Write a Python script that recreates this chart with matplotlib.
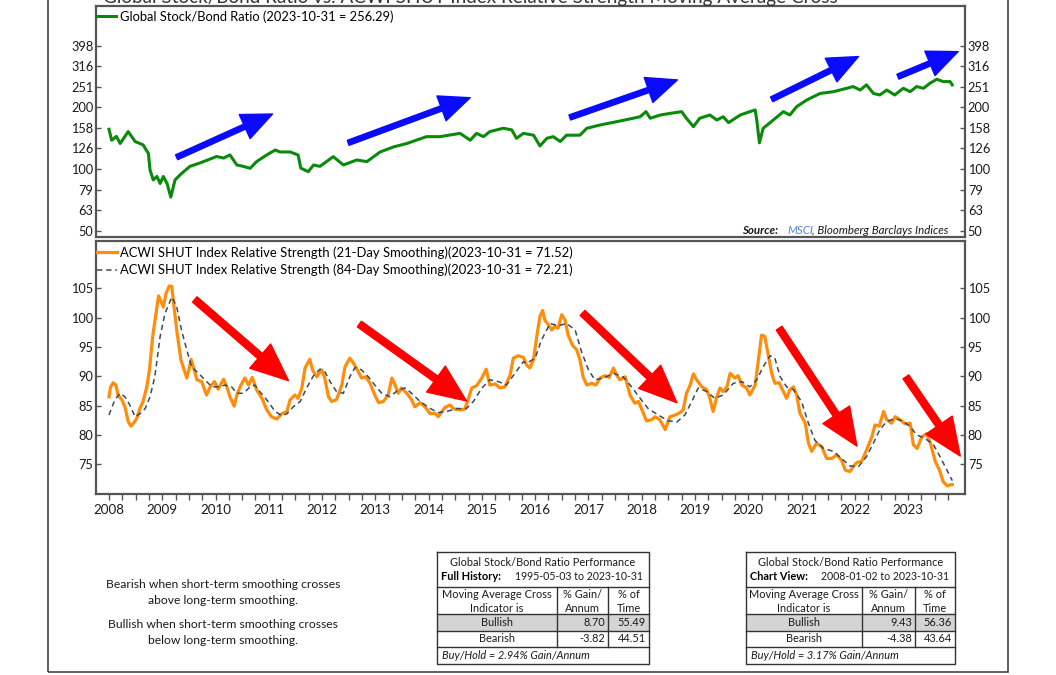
import matplotlib
matplotlib.use('Agg')
import matplotlib.pyplot as plt
import numpy as np
from matplotlib.patches import Rectangle
from matplotlib.ticker import FixedLocator, NullFormatter

plt.rcParams['font.family'] = ['Lato', 'DejaVu Sans']

W, H = 1056, 675

TITLE = 'Global Stock/Bond Ratio vs. ACWI SHUT Index Relative Strength Moving Average Cross'

# Global stock/bond ratio (decimal year, value)
RATIO_X = [2008.00, 2008.05, 2008.14, 2008.21, 2008.36, 2008.49, 2008.64, 2008.74, 2008.77, 2008.83,
           2008.90, 2008.96, 2009.02, 2009.09, 2009.16, 2009.24, 2009.36, 2009.52, 2009.71, 2010.02,
           2010.15, 2010.27, 2010.40, 2010.52, 2010.65, 2010.77, 2010.96, 2011.12, 2011.21, 2011.40,
           2011.55, 2011.60, 2011.74, 2011.84, 2011.96, 2012.21, 2012.40, 2012.65, 2012.84, 2013.09,
           2013.34, 2013.59, 2013.78, 2013.96, 2014.21, 2014.40, 2014.59, 2014.78, 2014.90, 2015.03,
           2015.15, 2015.40, 2015.56, 2015.65, 2015.78, 2015.97, 2016.09, 2016.22, 2016.34, 2016.47,
           2016.59, 2016.84, 2016.97, 2017.22, 2017.53, 2017.84, 2017.97, 2018.08, 2018.16, 2018.35,
           2018.54, 2018.75, 2018.84, 2018.97, 2019.09, 2019.28, 2019.41, 2019.53, 2019.63, 2019.85,
           2020.03, 2020.13, 2020.16, 2020.21, 2020.28, 2020.47, 2020.66, 2020.78, 2020.91, 2021.10,
           2021.35, 2021.60, 2021.85, 2021.97, 2022.10, 2022.22, 2022.35, 2022.47, 2022.60, 2022.75,
           2022.91, 2023.04, 2023.16, 2023.29, 2023.41, 2023.54, 2023.66, 2023.79, 2023.83]
RATIO_Y = [156, 138, 144, 133, 152, 136, 131, 119, 99, 88.5,
           92, 85, 92, 85, 73, 88.5, 95, 103, 107, 115,
           113, 117, 104.6, 103, 100.8, 108.6, 117, 123.6, 121, 121,
           117, 101, 97, 104.6, 103, 114.8, 104.6, 110.6, 108.6, 121,
           128, 133, 138.4, 143.6, 143.6, 146.3, 149, 138, 149, 143.6,
           152, 157.7, 155, 141, 149, 146, 129.4, 141, 143.6, 136,
           146, 146, 157.7, 163.7, 169.8, 176.5, 179.5, 190, 176.5, 183,
           186.5, 190, 176.5, 160.6, 176.5, 183, 173, 179.5, 168, 183,
           190, 193.6, 173, 134, 157.7, 173, 190, 183, 201, 216.6,
           233, 237.6, 246.8, 251.6, 242, 256.5, 233, 229, 242, 229,
           246.8, 237.6, 251.6, 246.8, 261, 273, 266, 266, 256.29]

# ACWI SHUT relative strength, 21-day smoothing
SHORT_X = [2008.00, 2008.03, 2008.08, 2008.13, 2008.17, 2008.24, 2008.30, 2008.36, 2008.41, 2008.46,
           2008.52, 2008.58, 2008.64, 2008.71, 2008.76, 2008.82, 2008.88, 2008.93, 2008.97, 2009.02,
           2009.07, 2009.13, 2009.18, 2009.22, 2009.28, 2009.35, 2009.41, 2009.46, 2009.50, 2009.54,
           2009.60, 2009.65, 2009.74, 2009.83, 2009.90, 2009.98, 2010.05, 2010.15, 2010.22, 2010.27,
           2010.35, 2010.40, 2010.46, 2010.55, 2010.62, 2010.69, 2010.77, 2010.87, 2010.96, 2011.05,
           2011.15, 2011.24, 2011.34, 2011.40, 2011.49, 2011.55, 2011.62, 2011.68, 2011.77, 2011.82,
           2011.90, 2011.99, 2012.05, 2012.12, 2012.18, 2012.27, 2012.37, 2012.43, 2012.52, 2012.59,
           2012.68, 2012.74, 2012.82, 2012.90, 2012.99, 2013.06, 2013.15, 2013.24, 2013.31, 2013.37,
           2013.43, 2013.49, 2013.59, 2013.68, 2013.74, 2013.84, 2013.93, 2014.03, 2014.12, 2014.18,
           2014.25, 2014.31, 2014.40, 2014.48, 2014.59, 2014.68, 2014.74, 2014.81, 2014.90, 2015.00,
           2015.08, 2015.15, 2015.25, 2015.34, 2015.43, 2015.53, 2015.59, 2015.68, 2015.78, 2015.84,
           2015.90, 2015.97, 2016.03, 2016.09, 2016.14, 2016.18, 2016.25, 2016.31, 2016.37, 2016.43,
           2016.50, 2016.56, 2016.62, 2016.70, 2016.78, 2016.84, 2016.90, 2016.97, 2017.06, 2017.14,
           2017.22, 2017.31, 2017.39, 2017.47, 2017.53, 2017.59, 2017.69, 2017.78, 2017.87, 2017.94,
           2018.03, 2018.09, 2018.19, 2018.25, 2018.34, 2018.44, 2018.53, 2018.63, 2018.72, 2018.78,
           2018.84, 2018.91, 2018.97, 2019.03, 2019.13, 2019.22, 2019.28, 2019.34, 2019.41, 2019.47,
           2019.53, 2019.60, 2019.66, 2019.75, 2019.81, 2019.88, 2019.97, 2020.03, 2020.13, 2020.19,
           2020.25, 2020.31, 2020.38, 2020.44, 2020.50, 2020.58, 2020.66, 2020.72, 2020.78, 2020.85,
           2020.91, 2020.97, 2021.07, 2021.13, 2021.19, 2021.28, 2021.38, 2021.47, 2021.57, 2021.66,
           2021.75, 2021.82, 2021.91, 2021.97, 2022.04, 2022.13, 2022.22, 2022.32, 2022.38, 2022.46,
           2022.54, 2022.60, 2022.69, 2022.76, 2022.85, 2022.94, 2023.04, 2023.10, 2023.17, 2023.26,
           2023.35, 2023.42, 2023.51, 2023.59, 2023.66, 2023.74, 2023.79, 2023.83]
SHORT_Y = [86.5, 88.2, 88.9, 88.5, 86.8, 86.0, 84.8, 82.3, 81.5, 82.0,
           82.8, 84.5, 85.7, 88.2, 91.1, 96.8, 100.5, 103.7, 102.9, 101.8,
           104.1, 105.4, 105.3, 101.9, 97.3, 92.8, 91.1, 89.7, 91.1, 92.9,
           91.1, 89.4, 89.1, 86.8, 88.2, 89.1, 87.8, 89.5, 88.0, 86.5,
           84.9, 86.8, 88.2, 89.7, 88.5, 89.8, 87.7, 86.25, 84.3, 83.1,
           82.7, 83.6, 84.0, 86.0, 86.8, 86.25, 88.0, 91.4, 92.9, 91.1,
           89.9, 91.1, 89.7, 86.5, 85.7, 86.0, 88.5, 91.6, 93.1, 92.2,
           90.8, 89.7, 89.9, 88.8, 86.8, 85.5, 85.7, 86.8, 89.7, 88.5,
           87.1, 88.0, 87.1, 86.0, 84.8, 85.5, 84.8, 83.6, 83.7, 83.1,
           84.0, 84.7, 85.1, 84.4, 84.3, 84.4, 86.0, 88.0, 88.4, 89.7,
           91.2, 88.5, 88.7, 88.0, 88.2, 90.2, 93.1, 93.5, 93.2, 91.9,
           91.4, 92.8, 96.8, 100.2, 101.2, 99.6, 98.75, 97.9, 98.5, 98.2,
           100.5, 99.6, 97.0, 95.3, 94.5, 92.8, 89.9, 88.5, 88.8, 88.5,
           89.7, 90.1, 89.8, 91.4, 90.2, 89.4, 89.9, 86.8, 85.4, 85.7,
           83.7, 82.4, 82.6, 83.1, 82.6, 80.9, 83.1, 83.4, 83.8, 84.3,
           87.1, 88.5, 90.4, 89.4, 88.2, 87.7, 86.25, 84.0, 86.5, 88.0,
           87.4, 88.2, 90.5, 89.7, 90.1, 88.5, 88.0, 86.8, 88.5, 92.8,
           97.0, 96.8, 93.4, 90.5, 88.8, 88.9, 87.4, 86.25, 87.7, 88.2,
           86.8, 83.7, 82.0, 78.6, 77.2, 78.6, 78.0, 76.0, 76.0, 76.6,
           75.7, 74.0, 73.75, 74.6, 75.3, 75.5, 77.4, 79.7, 81.7, 81.5,
           84.0, 82.6, 82.0, 83.1, 82.6, 81.9, 82.0, 78.3, 77.7, 79.7,
           80.2, 78.6, 75.5, 74.0, 72.0, 71.3, 71.5, 71.52]

# ACWI SHUT relative strength, 84-day smoothing
LONG_X = [2008.00, 2008.11, 2008.21, 2008.30, 2008.39, 2008.49, 2008.58, 2008.68, 2008.77, 2008.86,
          2008.96, 2009.05, 2009.18, 2009.27, 2009.36, 2009.46, 2009.55, 2009.68, 2009.80, 2009.93,
          2010.05, 2010.18, 2010.30, 2010.40, 2010.52, 2010.65, 2010.74, 2010.83, 2010.96, 2011.12,
          2011.24, 2011.34, 2011.46, 2011.59, 2011.71, 2011.84, 2011.96, 2012.05, 2012.15, 2012.27,
          2012.40, 2012.52, 2012.62, 2012.74, 2012.87, 2012.99, 2013.12, 2013.28, 2013.43, 2013.56,
          2013.68, 2013.84, 2014.03, 2014.18, 2014.34, 2014.53, 2014.71, 2014.84, 2015.00, 2015.15,
          2015.31, 2015.46, 2015.62, 2015.78, 2015.84, 2016.00, 2016.12, 2016.28, 2016.43, 2016.59,
          2016.75, 2016.87, 2017.00, 2017.12, 2017.28, 2017.47, 2017.65, 2017.81, 2017.97, 2018.12,
          2018.31, 2018.50, 2018.66, 2018.81, 2018.94, 2019.06, 2019.22, 2019.37, 2019.53, 2019.72,
          2019.88, 2020.03, 2020.16, 2020.28, 2020.41, 2020.50, 2020.60, 2020.72, 2020.85, 2021.00,
          2021.13, 2021.25, 2021.41, 2021.60, 2021.75, 2021.91, 2022.07, 2022.22, 2022.35, 2022.47,
          2022.60, 2022.76, 2022.91, 2023.04, 2023.16, 2023.32, 2023.48, 2023.60, 2023.73, 2023.83]
LONG_Y = [83.4, 86.0, 87.1, 86.5, 85.1, 83.1, 83.6, 84.5, 86.5, 89.9,
          96.8, 100.7, 103.5, 101.9, 97.9, 94.5, 91.6, 90.5, 89.4, 88.2,
          88.2, 88.5, 88.2, 87.1, 87.1, 88.2, 88.5, 87.4, 86.0, 84.0,
          83.3, 83.6, 84.8, 85.7, 88.0, 90.1, 91.2, 90.8, 89.1, 87.4,
          87.1, 89.9, 91.5, 91.1, 89.9, 88.5, 87.1, 86.5, 87.7, 88.0,
          87.1, 85.7, 84.5, 83.8, 84.0, 84.5, 84.5, 85.7, 88.0, 89.4,
          89.1, 88.5, 90.5, 92.5, 92.2, 93.1, 96.2, 99.0, 98.6, 99.0,
          97.9, 94.2, 91.1, 89.4, 89.7, 90.5, 89.9, 88.2, 86.25, 84.5,
          83.4, 82.4, 82.2, 83.4, 85.7, 88.0, 87.4, 86.25, 86.8, 88.8,
          89.1, 88.2, 89.4, 91.6, 93.5, 93.1, 89.9, 88.2, 87.7, 85.7,
          82.0, 79.1, 77.7, 77.2, 76.0, 74.7, 74.6, 76.3, 78.6, 80.9,
          82.3, 82.8, 82.3, 81.4, 80.0, 79.4, 78.3, 76.3, 74.0, 72.21]

# trend arrows: (tail year, tail value, head year, head value)
UP_ARROWS = [(2009.27, 114, 2011.07, 185), (2012.49, 134, 2014.78, 222),
             (2016.65, 178, 2018.67, 271), (2020.44, 218, 2022.07, 352),
             (2022.81, 281, 2023.94, 372)]
DOWN_ARROWS = [(2009.61, 103.1, 2011.37, 89.25), (2012.70, 98.9, 2014.71, 85.8),
               (2016.89, 100.8, 2018.66, 85.5), (2020.58, 98.2, 2022.04, 78.1),
               (2022.96, 89.9, 2023.98, 76.4)]

RATIO_TICKS = [50, 63, 79, 100, 126, 158, 200, 251, 316, 398]
RS_TICKS = [75, 80, 85, 90, 95, 100, 105]
YEARS = list(range(2008, 2024))

TABLE_FULL = {'label': 'Full History:', 'span': '1995-05-03 to 2023-10-31',
              'bull': ('8.70', '55.49'), 'bear': ('-3.82', '44.51'), 'hold': '2.94'}
TABLE_VIEW = {'label': 'Chart View:', 'span': '2008-01-02 to 2023-10-31',
              'bull': ('9.43', '56.36'), 'bear': ('-4.38', '43.64'), 'hold': '3.17'}

SPINE = '#555555'
TEXT = '#1a1a1a'


def fx(x):
    return x / W


def fy(y):
    return 1 - y / H


def style_axes(ax, yticks):
    for sp in ax.spines.values():
        sp.set_color(SPINE)
        sp.set_linewidth(1.6)
    ax.set_yticks(yticks)
    ax.set_yticklabels([str(t) for t in yticks])
    ax.yaxis.set_minor_locator(FixedLocator([]))
    ax.tick_params(axis='y', which='major', direction='in', length=3.5, width=1.0,
                   color=SPINE, left=True, right=True, labelleft=True, labelright=True,
                   labelsize=9.2, labelcolor=TEXT, pad=2)
    ax.set_xlim(2007.756, 2024.069)


def draw_table(fig, x0, x1, c1, c2, spec):
    top, r1, r2, r3, r4, bot = 552, 587, 614, 631, 647, 664
    fs = 7.9
    fig.patches.append(Rectangle((fx(x0), fy(r3)), fx(x1) - fx(x0), fy(r2) - fy(r3),
                                 transform=fig.transFigure, facecolor='#d4d4d4',
                                 edgecolor='none', zorder=1))
    kw = dict(transform=fig.transFigure, color='#333333', lw=1.0, zorder=2)
    fig.lines.append(plt.Line2D([fx(x0), fx(x1), fx(x1), fx(x0), fx(x0)],
                                [fy(top), fy(top), fy(bot), fy(bot), fy(top)], **kw))
    for yy in (r1, r2, r3, r4):
        fig.lines.append(plt.Line2D([fx(x0), fx(x1)], [fy(yy), fy(yy)], **kw))
    for xx in (c1, c2):
        fig.lines.append(plt.Line2D([fx(xx), fx(xx)], [fy(r1), fy(r4)], **kw))

    mid = (x0 + x1) / 2
    fig.text(fx(mid), fy(562), 'Global Stock/Bond Ratio Performance', ha='center',
             va='center', fontsize=fs, color=TEXT)
    fig.text(fx(x0 + 4), fy(577), spec['label'], ha='left', va='center',
             fontsize=fs, fontweight='bold', color='black')
    fig.text(fx(x1 - 6), fy(577), spec['span'], ha='right', va='center',
             fontsize=7.6, color=TEXT)
    m1, m2, m3 = (x0 + c1) / 2, (c1 + c2) / 2, (c2 + x1) / 2
    for xx, (a, b) in ((m1, ('Moving Average Cross', 'Indicator is')),
                       (m2, ('% Gain/', 'Annum')), (m3, ('% of', 'Time'))):
        fig.text(fx(xx), fy(594), a, ha='center', va='center', fontsize=fs, color=TEXT)
        fig.text(fx(xx), fy(608), b, ha='center', va='center', fontsize=fs, color=TEXT)
    for yy, name, vals in ((622.5, 'Bullish', spec['bull']), (639, 'Bearish', spec['bear'])):
        fig.text(fx(m1), fy(yy), name, ha='center', va='center', fontsize=fs, color=TEXT)
        fig.text(fx(c2 - 3), fy(yy), vals[0], ha='right', va='center', fontsize=fs, color=TEXT)
        fig.text(fx(x1 - 3), fy(yy), vals[1], ha='right', va='center', fontsize=fs, color=TEXT)
    fig.text(fx(x0 + 5), fy(655.5), f"Buy/Hold = {spec['hold']}% Gain/Annum", ha='left',
             va='center', fontsize=fs, style='italic', color=TEXT)


def main():
    fig = plt.figure(figsize=(W / 100, H / 100), dpi=100)

    # outer frame, top edge sits above the canvas
    fig.patches.append(Rectangle((fx(48), fy(672)), fx(1008) - fx(48), 1.0,
                                 transform=fig.transFigure, fill=False,
                                 edgecolor='#444444', lw=1.2, clip_on=False))
    fig.text(fx(103), fy(3), TITLE, ha='left', va='baseline', fontsize=13.6, color='#333333')

    # top panel: stock/bond ratio
    ax1 = fig.add_axes([fx(96), fy(237), fx(965) - fx(96), fy(6) - fy(237)])
    ax1.set_yscale('log')
    ax1.plot(RATIO_X, RATIO_Y, color='#0a8a0a', lw=2.2,
             label='Global Stock/Bond Ratio (2023-10-31 = 256.29)')
    ax1.set_ylim(46.7, 620)
    style_axes(ax1, RATIO_TICKS)
    ax1.tick_params(axis='x', which='both', bottom=False, labelbottom=False)
    for tx, ty, hx, hy in UP_ARROWS:
        ax1.annotate('', xy=(hx, hy), xytext=(tx, ty),
                     arrowprops=dict(arrowstyle='simple,head_length=2.2,head_width=1.9,tail_width=0.38',
                                     color='#0a0aff', shrinkA=0, shrinkB=0, mutation_scale=10))
    ax1.legend(loc='upper left', bbox_to_anchor=(fx(97), fy(10)), bbox_transform=fig.transFigure,
               frameon=False, fontsize=9.3, handlelength=1.5, handletextpad=0.25,
               borderpad=0, borderaxespad=0)
    fig.text(fx(742), fy(231), 'Source:', ha='left', va='center', fontsize=8.3,
             style='italic', fontweight='bold', color=TEXT)
    fig.text(fx(787), fy(231), 'MSCI', ha='left', va='center', fontsize=8.3,
             style='italic', color='#4f86d9')
    fig.text(fx(812), fy(231), ', Bloomberg Barclays Indices', ha='left', va='center',
             fontsize=8.3, style='italic', color=TEXT)

    # bottom panel: relative strength
    ax2 = fig.add_axes([fx(96), fy(494), fx(965) - fx(96), fy(241) - fy(494)])
    ax2.plot(SHORT_X, SHORT_Y, color='#ff8c0a', lw=2.3,
             label='ACWI SHUT Index Relative Strength (21-Day Smoothing)(2023-10-31 = 71.52)')
    ax2.plot(LONG_X, LONG_Y, color='#3b4a57', lw=1.1, dashes=(3.5, 2.5),
             label='ACWI SHUT Index Relative Strength (84-Day Smoothing)(2023-10-31 = 72.21)')
    ax2.set_ylim(69.93, 113.06)
    style_axes(ax2, RS_TICKS)
    ax2.set_xticks(YEARS)
    ax2.set_xticklabels([str(y) for y in YEARS])
    ax2.xaxis.set_minor_locator(FixedLocator([y + q for y in YEARS for q in (0.25, 0.5, 0.75)]))
    ax2.xaxis.set_minor_formatter(NullFormatter())
    ax2.tick_params(axis='x', which='both', direction='out', length=4, width=1.0,
                    color=SPINE, labelsize=9.6, labelcolor=TEXT, pad=3)
    for tx, ty, hx, hy in DOWN_ARROWS:
        ax2.annotate('', xy=(hx, hy), xytext=(tx, ty),
                     arrowprops=dict(arrowstyle='simple,head_length=2.7,head_width=2.3,tail_width=0.5',
                                     color='#ff0000', shrinkA=0, shrinkB=0, mutation_scale=10))
    ax2.legend(loc='upper left', bbox_to_anchor=(fx(97), fy(246)), bbox_transform=fig.transFigure,
               frameon=False, fontsize=9.4, handlelength=1.5, handletextpad=0.25,
               borderpad=0, borderaxespad=0, labelspacing=0.4)

    # explanation text
    for yy, line in ((585, 'Bearish when short-term smoothing crosses'),
                     (601, 'above long-term smoothing.'),
                     (624, 'Bullish when short-term smoothing crosses'),
                     (640, 'below long-term smoothing.')):
        fig.text(fx(223), fy(yy), line, ha='center', va='center', fontsize=8.7, color=TEXT)

    draw_table(fig, 437, 649, 557, 608, TABLE_FULL)
    draw_table(fig, 746, 955, 862, 915, TABLE_VIEW)

    fig.savefig('out.png', dpi=100)


if __name__ == '__main__':
    main()
